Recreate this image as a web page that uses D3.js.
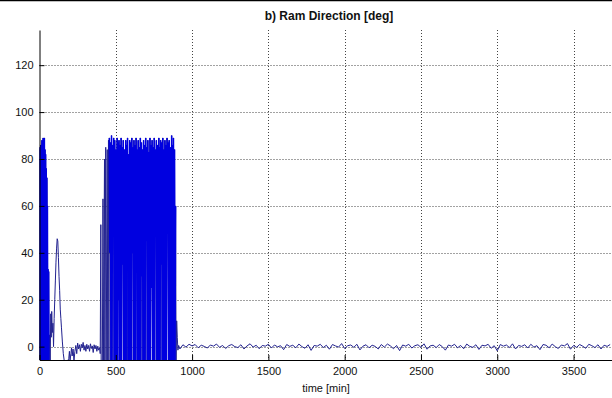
<!DOCTYPE html>
<html>
<head>
<meta charset="utf-8">
<script src="https://cdn.jsdelivr.net/npm/d3@7"></script>
<style>
  body { margin: 0; background: #fff; }
  text { font-family: "Liberation Sans", Arial, sans-serif; fill: #111; }
</style>
</head>
<body>
<script>
// ram direction, first hours: dense swinging then settle
var startTimes = [0, 2, 4, 6, 8, 10, 12, 14, 16, 18, 20, 22, 24, 26, 28, 30, 32, 34, 36, 38, 40, 42, 44, 46, 48, 50, 52, 54, 56, 58, 60, 62, 66, 70, 74, 77, 80, 84, 88, 92, 96, 100, 104, 108, 112, 116, 120, 124, 128, 132, 136, 140, 144, 150, 156, 162, 170, 178, 186, 192, 196, 200, 206, 210, 214, 220, 226, 232, 238, 244, 250, 256, 262, 268, 274, 280, 286, 292, 298, 304, 310, 316, 322, 328, 334, 340, 346, 352, 358, 364, 370, 376, 382, 388, 394];
var startValues = [85, -6, 84, -6, 86, 30, 85, -6, 88, 30, 86, -6, 89, 30, 88, -6, 89, 45, 84, -6, 82, 30, 76, -6, 72, 40, 60, -6, 33, -6, 32, -6, 5, -6, 14, 4, 15, 6, 10, 0, 12, 20, 28, 36, 42, 46, 45, 38, 30, 24, 16, 12, 8, 2, -3, -6, -6, -7, -6, -5, -2, -6, -3, -0.5, -4, -1, -6, -2, 0.5, -3, 1.5, -1, 0.8, -2, 1, -0.5, 1.8, -1.5, 0.5, -2, 1, -1, 0.5, -2, 1.2, -0.8, 0.3, -2.5, 0.8, -1, 0.5, -2, 0.2, -1.5, -0.5];

var burstTimes = [398, 402, 404, 412, 416, 419, 426, 428, 434, 437, 444, 447, 452, 455, 458, 461, 465, 468, 472, 475, 479, 482, 486, 489, 493, 496, 500, 503, 509, 512, 514, 517, 521, 524, 528, 531, 535, 538, 542, 545, 549, 552, 556, 559, 565, 568, 570, 573, 577, 580, 584, 587, 591, 594, 598, 601, 605, 608, 612, 615, 619, 622, 628, 631, 633, 636, 640, 643, 647, 650, 654, 657, 661, 664, 668, 671, 675, 678, 682, 685, 689, 692, 696, 699, 703, 706, 710, 713, 717, 720, 724, 727, 731, 734, 738, 741, 745, 748, 752, 755, 759, 762, 766, 769, 773, 776, 782, 785, 787, 790, 794, 797, 801, 804, 808, 811, 815, 818, 822, 825, 829, 832, 836, 839, 843, 846, 850, 853, 857, 860, 866, 869, 871, 874, 878, 881, 885, 888, 892, 895, 899, 903, 907, 912];
var burstValues = [-3, 52, -6, -6, 63, -6, 80, -6, 85, -6, 84, -6, 88, -6, 89, 40, 87, -6, 90, -6, 86, 50, 89, -6, 88, -6, 84, -6, 89, -6, 87, 20, 88, -6, 86, -6, 89, -6, 85, 35, 88, -6, 84, -6, 88, -6, 86, 55, 89, -6, 82, -6, 88, -6, 87, -6, 89, 40, 85, -6, 88, -6, 86, -6, 89, 60, 84, -6, 88, -6, 85, -6, 89, -6, 87, 30, 84, -6, 88, -6, 86, -6, 89, 45, 85, -6, 88, -6, 83, -6, 89, -6, 86, 25, 88, -6, 85, -6, 89, -6, 84, 50, 88, -6, 86, -6, 89, -6, 85, -6, 88, 35, 87, -6, 89, -6, 84, -6, 88, -6, 86, -6, 89, 55, 87, -6, 88, -6, 85, -6, 90, -6, 86, -6, 89, -6, 84, -6, 60, -6, 11, 4, -1.5, 0.5];

// settled part, sampled every 20 min from 920
var tailStart = 920, tailStep = 20;
var tailValues = [-1.0, 0.8, -0.2, 1.0, 0.3, 0.9, -0.5, 0.6, 0.1, -0.6,
  0.7, 0.2, 1.1, -0.3, 0.5, -0.8, 0.4, 0.9, 0.0, -0.4,
  0.8, -1.0, 0.3, 1.2, -0.2, 0.6, -0.9, 0.5, 0.2, 1.0,
  -0.6, 0.7, -0.1, 0.4, -1.3, 0.9, 0.1, 0.6, -0.5, 1.1,
  0.0, -0.7, 0.8, -1.6, 0.5, 0.2, 1.0, -0.4, 0.6, -1.1,
  0.9, 0.3, -0.2, 1.3, -0.8, 0.4, 0.7, -0.3, 1.0, -1.4,
  0.2, 0.8, -0.5, 0.6, 0.1, -1.0, 0.9, -0.2, 1.1, 0.3,
  -0.9, 0.5, -1.7, 0.7, 0.2, 1.0, -0.6, 0.4, 0.8, -0.3,
  1.2, -1.1, 0.3, 0.6, -0.4, 0.9, 0.0, -1.5, 0.7, 0.2,
  1.0, -0.5, 0.5, -0.9, 1.1, 0.1, -0.3, 0.8, -1.2, 0.6,
  0.3, 1.0, -0.7, 0.4, -1.8, 0.9, 0.2, 0.7, -0.4, 1.2,
  -1.0, 0.5, 0.1, 0.8, -0.6, 1.0, -0.2, 0.4, -1.3, 0.9,
  0.6, -0.5, 1.1, 0.0, -0.8, 0.7, 0.3, 1.3, -1.1, 0.5,
  -0.3, 0.9, 0.2, -0.7, 1.0, 0.4, -0.4, 0.8, -1.0, 0.6,
  0.1, 0.9];

var xTicks = [0, 500, 1000, 1500, 2000, 2500, 3000, 3500];
var yTicks = [0, 20, 40, 60, 80, 100, 120];

window.onload = function()
{
  var width = 612, height = 398;
  var left = 39.5, right = 612, top = 30, bottom = 360;

  var data = [];
  for (var i = 0; i < startTimes.length; i++) data.push([startTimes[i], startValues[i]]);
  for (var i = 0; i < burstTimes.length; i++) data.push([burstTimes[i], burstValues[i]]);
  for (var i = 0; i < tailValues.length; i++) data.push([tailStart + i * tailStep, tailValues[i]]);

  var x = d3.scaleLinear().domain([0, 3752]).range([left, right]);
  var y = d3.scaleLinear().domain([-5.7, 135]).range([bottom, top]);

  var svg = d3.select("body").append("svg")
    .attr("width", width)
    .attr("height", height);

  // thin frame edge at the very top of the picture
  svg.append("line")
    .attr("x1", 0).attr("x2", width).attr("y1", 0.5).attr("y2", 0.5)
    .attr("stroke", "#000").attr("stroke-width", 1.5);

  svg.append("clipPath").attr("id", "plot")
    .append("rect")
    .attr("x", left).attr("y", top)
    .attr("width", right - left).attr("height", bottom - top);

  // dotted grid
  svg.append("g").selectAll("line")
    .data(xTicks.filter(function(d) { return d > 0; }))
    .enter().append("line")
    .attr("x1", function(d) { return Math.round(x(d)) + 0.5; })
    .attr("x2", function(d) { return Math.round(x(d)) + 0.5; })
    .attr("y1", top).attr("y2", bottom)
    .attr("stroke", "#444").attr("stroke-dasharray", "1,2");
  svg.append("g").selectAll("line")
    .data(yTicks)
    .enter().append("line")
    .attr("x1", left).attr("x2", right)
    .attr("y1", function(d) { return Math.round(y(d)) + 0.5; })
    .attr("y2", function(d) { return Math.round(y(d)) + 0.5; })
    .attr("stroke", "#444").attr("stroke-dasharray", "1,2");

  var line = d3.line()
    .x(function(d) { return x(d[0]); })
    .y(function(d) { return y(d[1]); });

  var plot = svg.append("g").attr("clip-path", "url(#plot)");

  // thin trace over the whole time range
  plot.append("path")
    .datum(data)
    .attr("d", line)
    .attr("fill", "none")
    .attr("stroke", "#22228f")
    .attr("stroke-width", 1);

  // fast swinging stretches look solid blue
  var dense = [data.filter(function(d) { return d[0] <= 62; }),
               data.filter(function(d) { return d[0] >= 458 && d[0] <= 892; })];
  plot.selectAll(".dense")
    .data(dense)
    .enter().append("path")
    .attr("class", "dense")
    .attr("d", line)
    .attr("fill", "none")
    .attr("stroke", "#0000e0")
    .attr("stroke-width", 1.5);

  var xAxis = d3.axisBottom(x).tickValues(xTicks).tickFormat(d3.format("d"))
    .tickSizeInner(-5).tickSizeOuter(0).tickPadding(7);
  var yAxis = d3.axisLeft(y).tickValues(yTicks).tickFormat(d3.format("d"))
    .tickSizeInner(-5).tickSizeOuter(0).tickPadding(6);

  var gx = svg.append("g").attr("transform", "translate(0," + bottom + ")").call(xAxis);
  var gy = svg.append("g").attr("transform", "translate(" + left + ",0)").call(yAxis);
  [gx, gy].forEach(function(g) {
    g.selectAll("path, line").attr("stroke", "#000");
    g.selectAll("text").attr("font-size", 11).attr("fill", "#111")
      .style("font-family", "'Liberation Sans', Arial, sans-serif");
  });

  svg.append("text")
    .attr("x", 329).attr("y", 20)
    .attr("text-anchor", "middle")
    .attr("font-size", 12).attr("font-weight", "bold")
    .text("b) Ram Direction [deg]");

  svg.append("text")
    .attr("x", 326).attr("y", 392)
    .attr("text-anchor", "middle")
    .attr("font-size", 11)
    .text("time [min]");
}
</script>
</body>
</html>
